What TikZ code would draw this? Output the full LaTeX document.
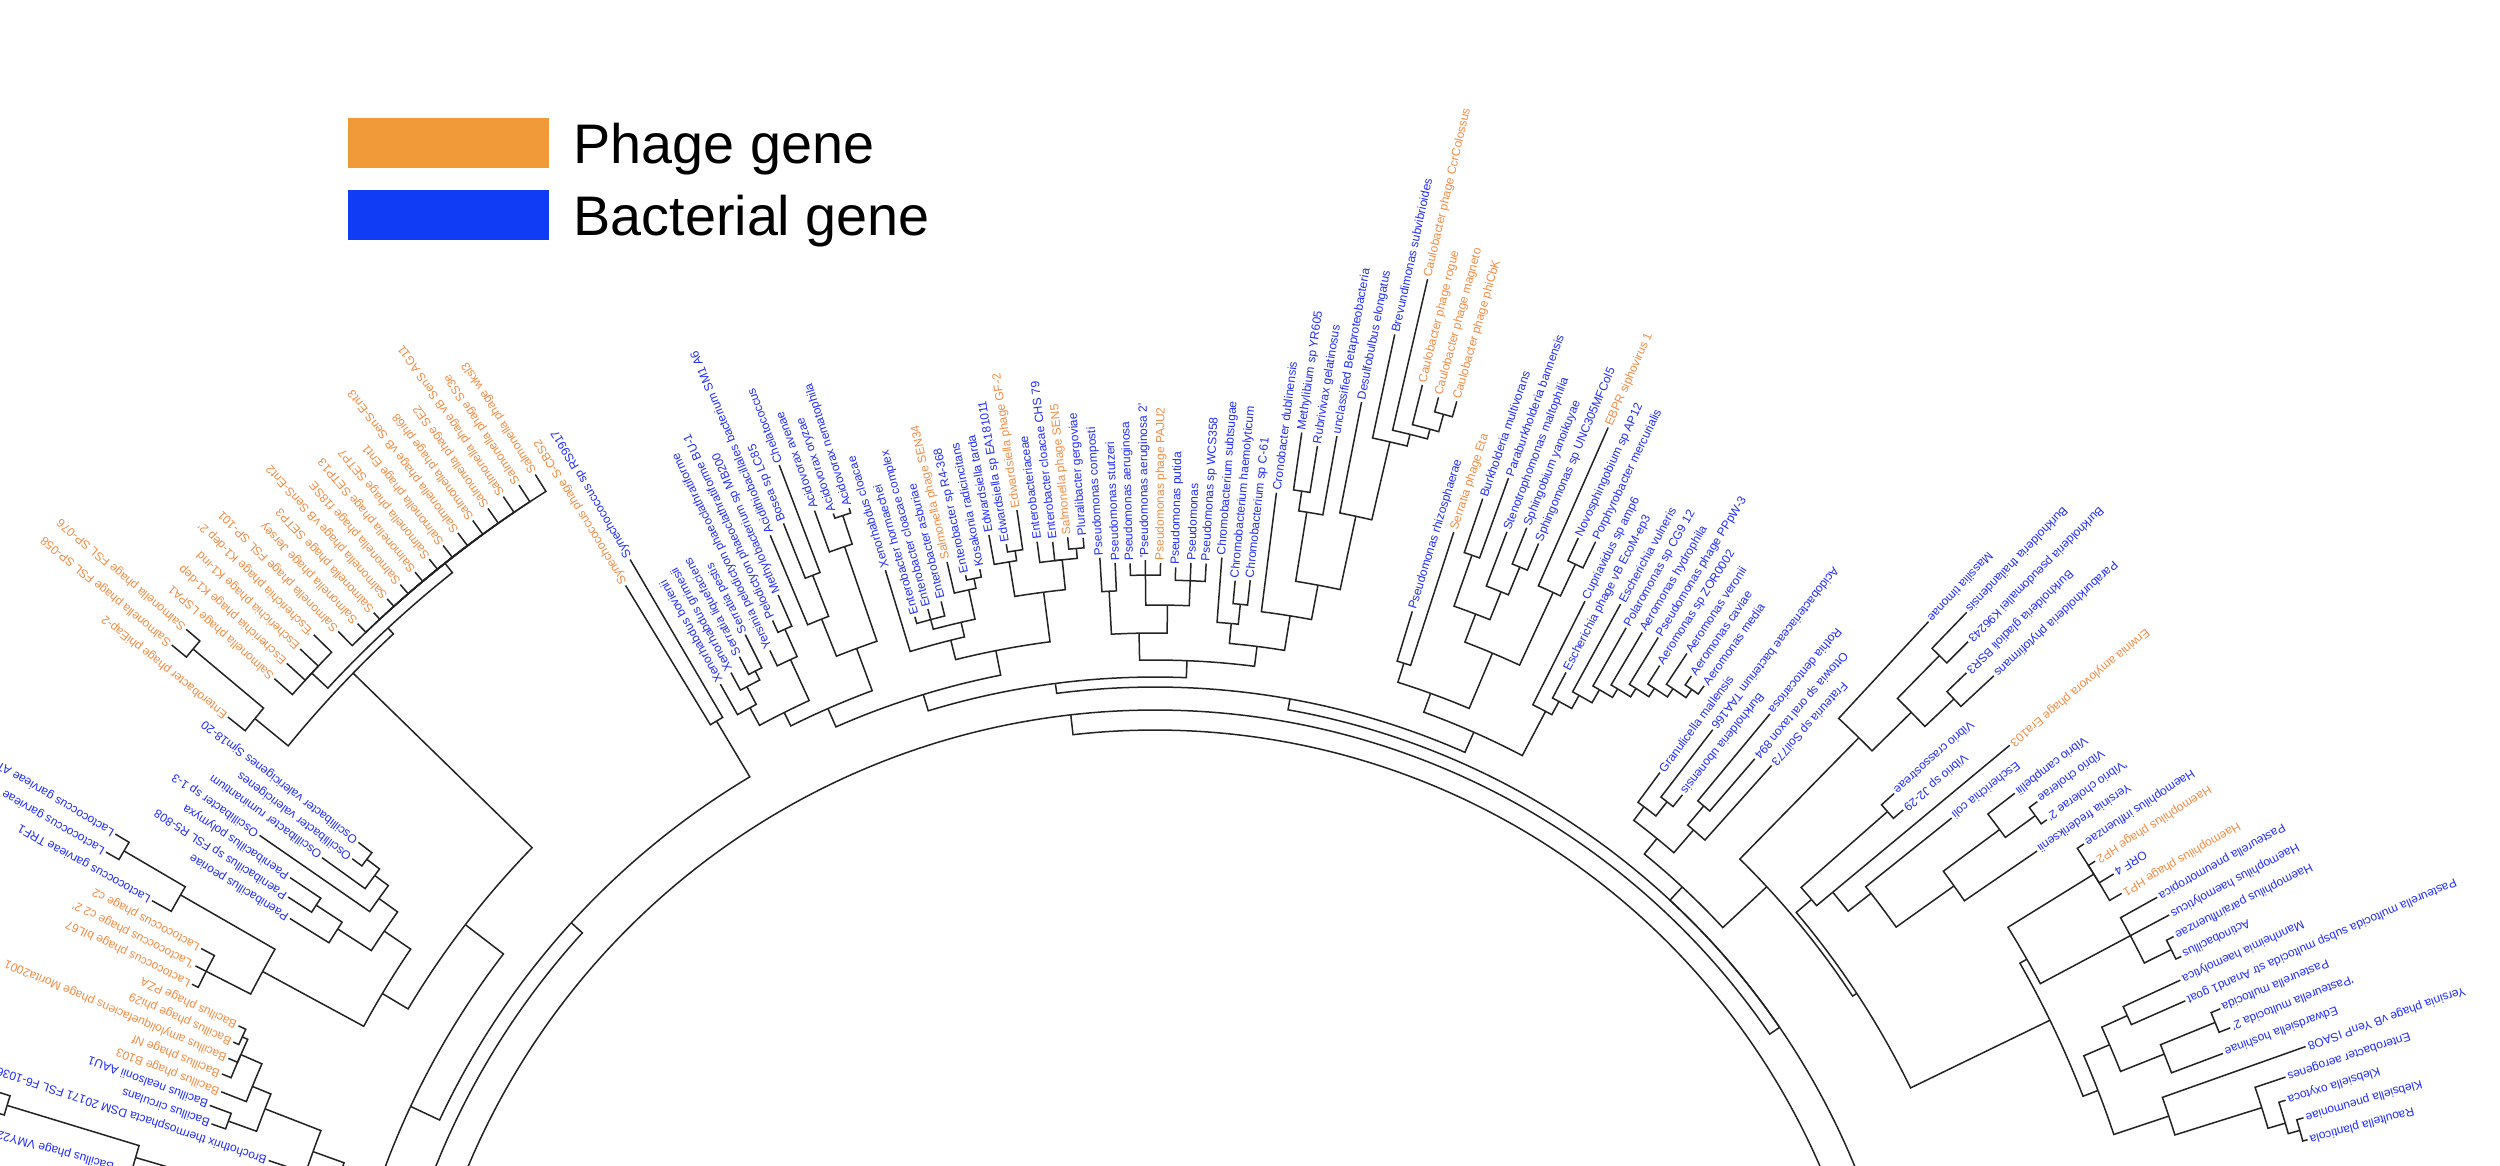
\documentclass[tikz,border=0pt]{standalone}
\usepackage{fontspec}
\newfontfamily\lab{Liberation Sans}
\definecolor{phg}{RGB}{240,154,58}
\definecolor{bac}{RGB}{16,60,245}
\definecolor{pht}{RGB}{244,140,68}
\definecolor{blt}{RGB}{32,44,250}
\definecolor{treec}{RGB}{35,35,35}
\tikzset{
 br/.style={draw=treec,line width=0.6pt},
 lb/.style={font=\lab\fontsize{4.8}{5.8}\selectfont,inner xsep=0.8pt,inner ysep=0pt},
 bl/.style={lb,text=blt},
 ph/.style={lb,text=pht},
 lg/.style={font=\lab\fontsize{22.3}{26}\selectfont,inner sep=0pt,anchor=base west}
}
\newcommand\fa[1]{\pgfmathsetmacro\la{ifthenelse(#1<=78,164.5-0.9592*(#1-2),ifthenelse(#1<=117,91.6-0.9769*(#1-78),53.5-1.0611*(#1-117)))}}
\newcommand\nd[3]{\fa{#2}\coordinate (#1) at (\la:#3);\expandafter\xdef\csname A@#1\endcsname{\la}\expandafter\xdef\csname R@#1\endcsname{#3}}
\newcommand\ed[2]{\draw[br] (#1) arc[start angle=\csname A@#1\endcsname,end angle=\csname A@#2\endcsname,radius=\csname R@#1\endcsname] -- (#2);}
\newcommand\eds[2]{\foreach \cc in {#2}{\ed{#1}{\cc}}}
\newcommand\lf[5]{\nd{#1}{#2}{#3}\pgfmathtruncatemacro\flp{#2>117.5}\ifnum\flp=1 \pgfmathsetmacro\lr{\la+180}\node[#4,anchor=east,rotate=\lr] (t#1) at (#1) {#5};\else\node[#4,anchor=west,rotate=\la] (t#1) at (#1) {#5};\fi}
\begin{document}
\begin{tikzpicture}[x=0.4pt,y=0.4pt]
\useasboundingbox (0,0) rectangle (2500,-1166);
\clip (0,0) rectangle (2500,-1166);
\fill[white] (0,0) rectangle (2500,-1166);
% legend
\fill[phg] (348,-118) rectangle (549,-168);
\fill[bac] (348,-190) rectangle (549,-240);
\node[lg] (lg1) at (573,-163) {Phage gene};
\node[lg] (lg2) at (573,-235) {Bacterial gene};
\begin{scope}[shift={(1155,-1455)}]
% ---------------- left leaves
\lf{L1}{1}{1045}{bl}{maticum}
\lf{L2}{2}{1078}{bl}{Bacillus phage VMY22}
\nd{L3}{3}{1235}
\nd{L4}{4}{1235}
\lf{L5}{5}{934}{bl}{Brochothrix thermosphacta DSM 20171 FSL F6-1036}
\lf{L6}{6}{1000}{bl}{Bacillus circulans}
\lf{L7}{7}{1008}{bl}{Bacillus nealsonii AAU1}
\lf{L8}{8}{1002}{ph}{Bacillus phage B103}
\lf{L9}{9}{1008}{ph}{Bacillus phage Nf}
\lf{L10}{10}{1008}{ph}{Bacillus amyloliquefaciens phage Morita2001}
\lf{L11}{11}{1010}{ph}{Bacillus phage phi29}
\lf{L12}{12}{1012}{ph}{Bacillus phage PZA}
\lf{L13}{13}{1072}{ph}{Lactococcus phage bIL67}
\lf{L14}{14}{1077}{ph}{\textquotesingle Lactococcus phage c2 2\textquotesingle}
\lf{L15}{15}{1080}{ph}{Lactococcus phage c2}
\lf{L16}{16}{1146}{bl}{Lactococcus garvieae TRF1}
\lf{L17}{17}{1210}{bl}{Lactococcus garvieae}
\lf{L18}{18}{1211}{bl}{Lactococcus garvieae ATCC}
\lf{L19}{19}{1018}{bl}{Paenibacillus peoriae}
\lf{L20}{20}{1031}{bl}{Paenibacillus sp FSL R5-808}
\lf{L21}{21}{1040}{bl}{Paenibacillus polymyxa}
\lf{L22}{22}{1089}{bl}{Oscillibacter sp 1-3}
\lf{L23}{23}{1025}{bl}{Oscillibacter ruminantium}
\lf{L24}{24}{1000}{bl}{Oscillibacter valericigenes}
\lf{L25}{25}{1005}{bl}{Oscillibacter valericigenes Sjm18-20}
\lf{L26}{26}{1185}{ph}{Enterobacter phage phiEap-2}
\lf{L27}{27}{1274}{ph}{Salmonella phage FSL SP-058}
\lf{L28}{28}{1273}{ph}{Salmonella phage FSL SP-076}
\lf{L29}{29}{1174}{ph}{Salmonella phage LSPA1}
\lf{L30}{30}{1175}{ph}{Escherichia phage K1-dep}
\lf{L31}{31}{1175}{ph}{Escherichia phage K1-ind}
\lf{L32}{32}{1175}{ph}{\textquotesingle Escherichia phage K1-dep 2\textquotesingle}
\lf{L33}{33}{1160}{ph}{Salmonella phage FSL SP-101}
\lf{L34}{34}{1152}{ph}{Salmonella phage Jersey}
\lf{L35}{35}{1149}{ph}{Salmonella phage SETP3}
\lf{L36}{36}{1150}{ph}{Salmonella phage vB SenS-Ent2}
\lf{L37}{37}{1152}{ph}{Salmonella phage f18SE}
\lf{L38}{38}{1152}{ph}{Salmonella phage SETP13}
\lf{L39}{39}{1153}{ph}{Salmonella phage SETP7}
\lf{L40}{40}{1155}{ph}{Salmonella phage Ent1}
\lf{L41}{41}{1156}{ph}{Salmonella phage vB SenS-Ent3}
\lf{L42}{42}{1157}{ph}{Salmonella phage phi68}
\lf{L43}{43}{1158}{ph}{Salmonella phage SE2}
\lf{L44}{44}{1159}{ph}{Salmonella phage vB SenS AG11}
\lf{L45}{45}{1160}{ph}{Salmonella phage SS3e}
\lf{L46}{46}{1160}{ph}{Salmonella phage wksl3}
\lf{L47}{47}{1018}{ph}{Synechococcus phage S-CBS2}
\lf{L48}{48}{1038}{bl}{Synechococcus sp RS9917}
% ---------------- middle leaves
\lf{M49}{49}{885}{bl}{Xenorhabdus bovienii}
\lf{M50}{50}{890}{bl}{Xenorhabdus grimesii}
\lf{M51}{51}{900}{bl}{Serratia liquefaciens}
\lf{M52}{52}{917}{bl}{Serratia pestis}
\lf{M53}{53}{892}{bl}{Yersinia pelodictyon phaeoclathratiforme}
\lf{M54}{54}{918}{bl}{Pelodictyon phaeoclathratiforme BU-1}
\lf{M55}{55}{939}{bl}{Methylobacterium sp MB200}
\lf{M56}{56}{997}{bl}{Acidithiobacillales bacterium SM1 A6}
\lf{M57}{57}{1003}{bl}{Bosea sp LC85}
\lf{M58}{58}{1059}{bl}{Chelatococcus}
\lf{M59}{59}{1004}{bl}{Acidovorax avenae}
\lf{M60}{60}{995}{bl}{Acidovorax oryzae}
\lf{M61}{61}{995}{bl}{Acidovorax nematophila}
\lf{M62}{62}{925}{bl}{Xenorhabdus cloacae}
\lf{M63}{63}{872}{bl}{Enterobacter hormaechei}
\lf{M64}{64}{876}{bl}{Enterobacter cloacae complex}
\lf{M65}{65}{880}{bl}{Enterobacter asburiae}
\lf{M66}{66}{917}{ph}{Salmonella phage SEN34}
\lf{M67}{67}{900}{bl}{Enterobacter sp R4-368}
\lf{M68}{68}{903}{bl}{Kosakonia radicincitans}
\lf{M69}{69}{935}{bl}{Edwardsiella tarda}
\lf{M70}{70}{923}{bl}{Edwardsiella sp EA181011}
\lf{M71}{71}{955}{ph}{Edwardsiella phage GF-2}
\lf{M72}{72}{921}{bl}{Enterobacteriaceae}
\lf{M73}{73}{919}{bl}{Enterobacter cloacae CHS 79}
\lf{M74}{74}{922}{ph}{Salmonella phage SEN5}
\lf{M75}{75}{920}{bl}{Pluralibacter gergoviae}
\lf{M76}{76}{899}{bl}{Pseudomonas composti}
\lf{M77}{77}{893}{bl}{Pseudomonas stutzeri}
\lf{M78}{78}{892}{bl}{Pseudomonas aeruginosa}
\lf{M79}{79}{895}{bl}{\textquotesingle Pseudomonas aeruginosa 2\textquotesingle}
\lf{M80}{80}{892}{ph}{Pseudomonas phage PAJU2}
\lf{M81}{81}{888}{bl}{Pseudomonas putida}
\lf{M82}{82}{893}{bl}{Pseudomonas}
\lf{M83}{83}{893}{bl}{Pseudomonas sp WCS358}
\lf{M84}{84}{900}{bl}{Chromobacterium subtsugae}
\lf{M85}{85}{878}{bl}{Chromobacterium haemolyticum}
\lf{M86}{86}{880}{bl}{Chromobacterium sp C-61}
\lf{M87}{87}{970}{bl}{Cronobacter dublinensis}
\lf{M88}{88}{1033}{bl}{Methylibium sp YR605}
\lf{M89}{89}{1022}{bl}{Rubrivivax gelatinosus}
\lf{M90}{90}{1035}{bl}{unclassified Betaproteobacteria}
\lf{M91}{91}{1073}{bl}{Desulfobulbus elongatus}
\lf{M92}{92}{1146}{bl}{Brevundimonas subvibrioides}
\lf{M93}{93}{1207}{ph}{Caulobacter phage CcrColossus}
\lf{M94}{94}{1103}{ph}{Caulobacter phage rogue}
\lf{M95}{95}{1095}{ph}{Caulobacter phage magneto}
\lf{M96}{96}{1096}{ph}{Caulobacter phage phiCbK}
\lf{M97}{97}{882}{bl}{Pseudomonas rhizosphaerae}
\lf{M98}{98}{970}{ph}{Serratia phage Eta}
\lf{M99}{99}{1011}{bl}{Burkholderia multivorans}
\lf{M100}{100}{1039}{bl}{Paraburkholderia bannensis}
\lf{M101}{101}{988}{bl}{Stenotrophomonas maltophilia}
\lf{M102}{102}{999}{bl}{Sphingobium yanoikuyae}
\lf{M103}{103}{989}{bl}{Sphingomonas sp UNC305MFCol5}
\lf{M104}{104}{1123}{ph}{EBPR siphovirus 1}
\lf{M105}{105}{1010}{bl}{Novosphingobium sp AP12}
\lf{M106}{106}{1014}{bl}{Porphyrobacter mercurialis}
\lf{M107}{107}{956}{bl}{Cupriavidus sp amp6}
\lf{M108}{108}{884}{bl}{Escherichia phage vB EcoM-ep3}
\lf{M109}{109}{970}{bl}{Escherichia vulneris}
\lf{M110}{110}{952}{bl}{Polaromonas sp CG9 12}
\lf{M111}{111}{956}{bl}{Aeromonas hydrophila}
\lf{M112}{112}{960}{bl}{Pseudomonas phage PPpW-3}
\lf{M113}{113}{937}{bl}{Aeromonas sp ZOR0002}
\lf{M114}{114}{962}{bl}{Aeromonas veronii}
\lf{M115}{115}{946}{bl}{Aeromonas caviae}
\lf{M116}{116}{945}{bl}{Aeromonas media}
% ---------------- right leaves
\lf{R117}{117}{849}{bl}{Granulicella mallensis}
\lf{R118}{118}{915}{bl}{Acidobacteriaceae bacterium TAA166}
\lf{R119}{119}{845}{bl}{Burkholderia ubonensis}
\lf{R120}{120}{963}{bl}{Rothia dentocariosa}
\lf{R121}{121}{919}{bl}{Ottowia sp oral taxon 894}
\lf{R122}{122}{925}{bl}{Frateuria sp Soil773}
\lf{R123}{123}{1137}{bl}{Massilia timonae}
\lf{R124}{124}{1170}{bl}{Burkholderia thailandensis}
\lf{R125}{125}{1150}{bl}{Burkholderia pseudomallei K96243}
\lf{R126}{126}{1127}{bl}{Burkholderia gladioli BSR3}
\lf{R127}{127}{1145}{bl}{Paraburkholderia phytofirmans}
\lf{R128}{128}{992}{bl}{Vibrio crassostreae}
\lf{R129}{129}{988}{bl}{Vibrio sp J2-29}
\lf{R130}{130}{1111}{ph}{Erwinia amylovora phage Era103}
\lf{R131}{131}{1020}{bl}{Escherichia coli}
\lf{R132}{132}{1085}{bl}{Vibrio campbellii}
\lf{R133}{133}{1098}{bl}{Vibrio cholerae}
\lf{R134}{134}{1095}{bl}{\textquotesingle Vibrio cholerae 2\textquotesingle}
\lf{R135}{135}{1069}{bl}{Yersinia frederiksenii}
\lf{R136}{136}{1112}{bl}{Haemophilus influenzae}
\lf{R137}{137}{1112}{ph}{Haemophilus phage HP2}
\lf{R138}{138}{1121}{bl}{ORF 4}
\lf{R139}{139}{1118}{ph}{Haemophilus phage HP1}
\lf{R140}{140}{1147}{bl}{Pasteurella pneumotropica}
\lf{R141}{141}{1149}{bl}{Haemophilus haemolyticus}
\lf{R142}{142}{1143}{bl}{Haemophilus parainfluenzae}
\lf{R143}{143}{1141}{bl}{Actinobacillus}
\lf{R144}{144}{1130}{bl}{Mannheimia haemolytica}
\lf{R145}{145}{1126}{bl}{Pasteurella multocida subsp multocida str Anand1 goat}
\lf{R146}{146}{1155}{bl}{Pasteurella multocida}
\lf{R147}{147}{1157}{bl}{\textquotesingle Pasteurella multocida 2\textquotesingle}
\lf{R148}{148}{1141}{bl}{Edwardsiella hoshinae}
\lf{R149}{149}{1221}{bl}{Yersinia phage vB YenP ISAO8}
\lf{R150}{150}{1192}{bl}{Enterobacter aerogenes}
\lf{R151}{151}{1185}{bl}{Klebsiella oxytoca}
\lf{R152}{152}{1197}{bl}{Klebsiella pneumoniae}
\lf{R153}{153}{1195}{bl}{Raoultella planticola}
% ---------------- left clades
\nd{nOff}{3.5}{1200} \eds{nOff}{L3,L4}
\nd{nV}{2.8}{1062} \eds{nV}{L2,nOff}
\nd{nVb}{2}{985} \eds{nVb}{L1,nV}
\nd{nBph1}{11.5}{1004} \eds{nBph1}{L11,L12}
\nd{nBph}{10.5}{998} \eds{nBph}{L9,L10,nBph1}
\nd{nBt}{9}{975} \eds{nBt}{L8,nBph}
\nd{nNC}{6.5}{985} \eds{nNC}{L6,L7}
\nd{nB1}{8}{955} \eds{nB1}{nNC,nBt}
\nd{nB2}{6.5}{895} \eds{nB2}{L5,nB1}
\nd{nLb}{4.5}{862} \eds{nLb}{nVb,nB2}
\nd{nLp}{14}{1065} \eds{nLp}{L13,L14,L15}
\nd{nLg2}{17.5}{1195} \eds{nLg2}{L17,L18}
\nd{nLg}{17}{1124} \eds{nLg}{L16,nLg2}
\nd{nLN}{15.5}{1015} \eds{nLN}{nLp,nLg}
\nd{nP2}{20.5}{1003} \eds{nP2}{L20,L21}
\nd{nP}{20}{972} \eds{nP}{L19,nP2}
\nd{nO2}{24.5}{988} \eds{nO2}{L24,L25}
\nd{nO1}{24}{972} \eds{nO1}{L23,nO2}
\nd{nO}{23}{955} \eds{nO}{L22,nO1}
\nd{nOP}{21.5}{932} \eds{nOP}{nP,nO}
\nd{nLc}{18}{900} \eds{nLc}{nLN,nOP}
\nd{nSa}{27.5}{1255} \eds{nSa}{L27,L28}
\nd{nSb}{26.8}{1163} \eds{nSb}{L26,nSa}
\nd{nSk}{30.5}{1150} \eds{nSk}{L29,L30,L31,L32}
\nd{nSc}{39.5}{1140} \eds{nSc}{L33,L34,L35,L36,L37,L38,L39,L40,L41,L42,L43,L44,L45,L46}
\nd{nSd}{35}{1128} \eds{nSd}{nSk,nSc}
\nd{nS}{32}{1120} \eds{nS}{nSb,nSd}
\nd{nLd}{25}{870} \eds{nLd}{nLc,nS}
\nd{nLall}{12}{822} \eds{nLall}{nLb,nLd}
\nd{nSy}{47.5}{855} \eds{nSy}{L47,L48}
\nd{nLA}{30}{790} \eds{nLA}{nLall,nSy}
\nd{gL}{-22}{1150}
\nd{nAL}{-3.7}{775} \eds{nAL}{gL,nLA}
% ---------------- middle clades
\nd{nX1}{51.5}{880} \eds{nX1}{M51,M52}
\nd{nX2}{50.5}{870} \eds{nX2}{M50,nX1}
\nd{nX3}{50}{850} \eds{nX3}{M49,nX2}
\nd{nY1}{54.5}{905} \eds{nY1}{M54,M55}
\nd{nY2}{54}{875} \eds{nY2}{M53,nY1}
\nd{nX4}{52}{830} \eds{nX4}{nX3,nY2}
\nd{nB1m}{57.5}{944} \eds{nB1m}{M57,M58}
\nd{nB2m}{57}{900} \eds{nB2m}{M56,nB1m}
\nd{nAc1}{60.5}{990} \eds{nAc1}{M60,M61}
\nd{nAc2}{60}{960} \eds{nAc2}{M59,nAc1}
\nd{nBA}{58.5}{860} \eds{nBA}{nB2m,nAc2}
\nd{nX5}{55}{815} \eds{nX5}{nX4,nBA}
\nd{nE1}{64}{865} \eds{nE1}{M63,M64,M65}
\nd{nE2}{67.5}{895} \eds{nE2}{M67,M68}
\nd{nE3}{67}{885} \eds{nE3}{M66,nE2}
\nd{nE4}{66}{855} \eds{nE4}{nE1,nE3}
\nd{nE5}{65}{840} \eds{nE5}{M62,nE4}
\nd{nEd1}{70.5}{915} \eds{nEd1}{M70,M71}
\nd{nEd2}{70}{905} \eds{nEd2}{M69,nEd1}
\nd{nEc1}{74.5}{910} \eds{nEc1}{M74,M75}
\nd{nEc2}{73.5}{900} \eds{nEc2}{M72,M73,nEc1}
\nd{nEd3}{72}{870} \eds{nEd3}{nEd2,nEc2}
\nd{nE6}{68}{820} \eds{nE6}{nE5,nEd3}
\nd{nMa}{62}{795} \eds{nMa}{nX5,nE6}
\nd{nPs1}{76.5}{865} \eds{nPs1}{M76,M77}
\nd{nPs2}{79}{880} \eds{nPs2}{M78,M79,M80}
\nd{nPs3}{82}{875} \eds{nPs3}{M81,M82,M83}
\nd{nPs4}{80.5}{850} \eds{nPs4}{nPs2,nPs3}
\nd{nPs5}{78.5}{822} \eds{nPs5}{nPs1,nPs4}
\nd{nCh1}{85.5}{855} \eds{nCh1}{M85,M86}
\nd{nCh2}{85}{835} \eds{nCh2}{M84,nCh1}
\nd{nMe1}{88.5}{975} \eds{nMe1}{M88,M89}
\nd{nMe2}{89}{955} \eds{nMe2}{nMe1,M90}
\nd{nCa1}{95.5}{1080} \eds{nCa1}{M95,M96}
\nd{nCa2}{95}{1062} \eds{nCa2}{M94,nCa1}
\nd{nCa3}{94}{1052} \eds{nCa3}{M93,nCa2}
\nd{nBr}{93}{1040} \eds{nBr}{M92,nCa3}
\nd{nDB}{92}{960} \eds{nDB}{M91,nBr}
\nd{nMD}{90.5}{885} \eds{nMD}{nMe2,nDB}
\nd{nCr}{89}{850} \eds{nCr}{M87,nMD}
\nd{nCC}{87}{815} \eds{nCC}{nCh2,nCr}
\nd{nPC}{82}{795} \eds{nPC}{nPs5,nCC}
\nd{nMb}{72}{778} \eds{nMb}{nMa,nPC}
\nd{nQ1}{97.5}{830} \eds{nQ1}{M97,M98}
\nd{nQ2}{99.5}{954} \eds{nQ2}{M99,M100}
\nd{nQ3}{102.5}{960} \eds{nQ3}{M102,M103}
\nd{nQ4}{102}{930} \eds{nQ4}{M101,nQ3}
\nd{nQ5}{101}{900} \eds{nQ5}{nQ2,nQ4}
\nd{nQ6}{105.5}{985} \eds{nQ6}{M105,M106}
\nd{nQ7}{105}{950} \eds{nQ7}{M104,nQ6}
\nd{nQ8}{103}{870} \eds{nQ8}{nQ5,nQ7}
\nd{nQ9}{100}{810} \eds{nQ9}{nQ1,nQ8}
\nd{nA1}{115.5}{935} \eds{nA1}{M115,M116}
\nd{nA2}{114.5}{925} \eds{nA2}{M114,nA1}
\nd{nA3}{113.5}{915} \eds{nA3}{M113,nA2}
\nd{nA4}{112.5}{905} \eds{nA4}{M112,nA3}
\nd{nA5}{111.5}{895} \eds{nA5}{M111,nA4}
\nd{nA6}{110.5}{885} \eds{nA6}{M110,nA5}
\nd{nA7}{109.5}{870} \eds{nA7}{M109,nA6}
\nd{nA8}{108.5}{855} \eds{nA8}{M108,nA7}
\nd{nA9}{108}{840} \eds{nA9}{M107,nA8}
\nd{nQ10}{104}{790} \eds{nQ10}{nQ9,nA9}
\nd{nMall}{90}{768} \eds{nMall}{nMb,nQ10}
% ---------------- right clades
\nd{nG1}{118.5}{830} \eds{nG1}{R118,R119}
\nd{nG2}{117.5}{812} \eds{nG2}{R117,nG1}
\nd{nR1}{120.5}{850} \eds{nR1}{R120,R121}
\nd{nR2}{121}{825} \eds{nR2}{nR1,R122}
\nd{nG3}{119.5}{795} \eds{nG3}{nG2,nR2}
\nd{nBu1}{124.5}{1120} \eds{nBu1}{R124,R125}
\nd{nBu2}{126.5}{1100} \eds{nBu2}{R126,R127}
\nd{nBu3}{125.5}{1060} \eds{nBu3}{nBu1,nBu2}
\nd{nBu4}{124.5}{1005} \eds{nBu4}{R123,nBu3}
\nd{nV1}{128.5}{975} \eds{nV1}{R128,R129}
\nd{nV2r}{133.5}{1088} \eds{nV2r}{R133,R134}
\nd{nV3}{133}{1051} \eds{nV3}{R132,nV2r}
\nd{nV4}{134}{981} \eds{nV4}{nV3,R135}
\nd{nV5}{131.5}{910} \eds{nV5}{R131,nV4}
\nd{nV6}{130}{881} \eds{nV6}{R130,nV5}
\nd{nV7}{129.5}{860} \eds{nV7}{nV1,nV6}
\nd{nH1}{137.5}{1104} \eds{nH1}{R136,R137,R138,R139}
\nd{nH2a}{142.5}{1135} \eds{nH2a}{R142,R143}
\nd{nH2}{141}{1105} \eds{nH2}{R140,R141,nH2a}
\nd{nH3}{139.5}{1003} \eds{nH3}{nH1,nH2}
\nd{nP1}{144.5}{1067} \eds{nP1}{R144,R145}
\nd{nP2r}{146.5}{1145} \eds{nP2r}{R146,R147}
\nd{nP3}{147}{1086} \eds{nP3}{nP2r,R148}
\nd{nP4}{145.5}{1039} \eds{nP4}{nP1,nP3}
\nd{nK1}{152.5}{1190} \eds{nK1}{R152,R153}
\nd{nK2}{152}{1178} \eds{nK2}{R151,nK1}
\nd{nK3}{151}{1160} \eds{nK3}{R150,nK2}
\nd{nK4}{150}{1069} \eds{nK4}{R149,nK3}
\nd{nP5}{147.5}{1011} \eds{nP5}{nP4,nK4}
\nd{nH4}{143}{995} \eds{nH4}{nH3,nP5}
\nd{nRV}{136}{840} \eds{nRV}{nV7,nH4}
\nd{nRC}{127}{835} \eds{nRC}{nBu4,nRV}
\nd{nRall}{123}{775} \eds{nRall}{nG3,nRC}
\nd{gR}{174}{1150}
\nd{nAR}{135}{757} \eds{nAR}{nMall,nRall,gR}
% ---------------- backbone
\nd{nA0}{72.9}{745} \eds{nA0}{nAL,nAR}
\nd{gR0}{178}{1150}
\nd{nR0}{110}{725} \eds{nR0}{nA0,gR0}
\end{scope}
\end{tikzpicture}
\end{document}
